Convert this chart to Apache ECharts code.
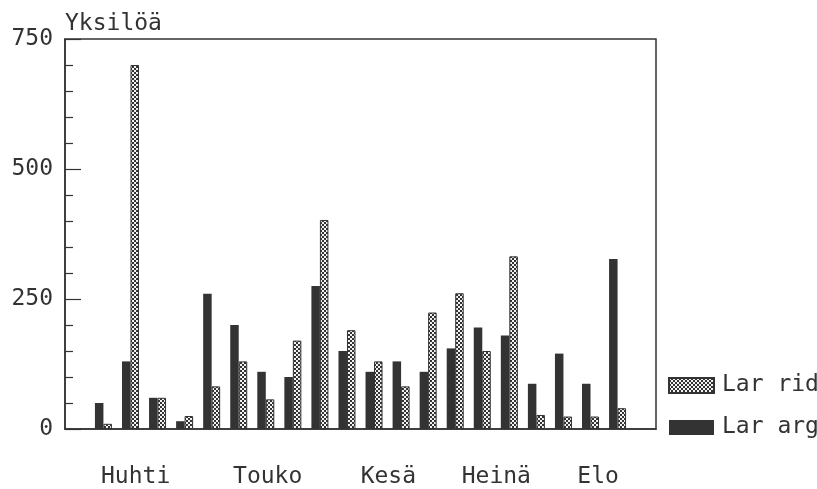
<!DOCTYPE html>
<html>
<head>
<meta charset="utf-8">
<script src="https://cdn.jsdelivr.net/npm/echarts@6/dist/echarts.min.js"></script>
<style>
html,body{margin:0;padding:0;background:#fff;}
#c{width:817px;height:489px;}
</style>
</head>
<body>
<div id="c"></div>
<script>
// ---- data ----
var categories = [1,2,3,4,5,6,7,8,9,10,11,12,13,14,15,16,17,18,19,20];
var larArg = [50,130,60,15,260,200,110,100,275,150,110,130,110,155,195,180,87,145,87,327];
var larRid = [10,700,60,25,82,130,57,170,402,190,130,82,224,261,150,332,27,24,24,40];
var monthLabels = ['Huhti','Touko','Kesä','Heinä','Elo'];
var monthAnchors = [2.19, 7.07, 11.53, 15.52, 19.28];
var yTicks = [0,250,500,750];
var seriesNames = ['Lar arg','Lar rid'];

// ---- hatch pattern ----
var pc = document.createElement('canvas');
pc.width = 4; pc.height = 4;
var g = pc.getContext('2d');
g.fillStyle = '#333333'; g.fillRect(0,0,4,4);
g.fillStyle = '#f2f2f2';
g.fillRect(0,0,2,2); g.fillRect(2,2,2,2);
var hatch = {image: pc, repeat: 'repeat'};

var font = 'DejaVu Sans Mono';
var chart = echarts.init(document.getElementById('c'), null, {renderer:'canvas'});
chart.setOption({
  animation: false,
  backgroundColor: '#fff',
  title: {
    text: 'Yksilöä', left: 60, top: 8,
    textStyle: {fontFamily: font, fontSize: 23, fontWeight: 'normal', color: '#333'}
  },
  legend: {
    orient: 'vertical', left: 663, top: 369,
    itemWidth: 45, itemHeight: 15, itemGap: 19,
    icon: 'rect',
    data: [seriesNames[1], seriesNames[0]],
    textStyle: {fontFamily: font, fontSize: 23, color: '#333', padding: [0,0,0,3]}
  },
  grid: {left: 65, right: 161, top: 39, bottom: 59, show: true, borderColor: '#333', borderWidth: 1.5},
  xAxis: {
    type: 'value', min: -0.42, max: 21.42,
    splitLine: {show: false},
    axisLine: {show: true, onZero: false, lineStyle: {color: '#333', width: 1.5}},
    axisTick: {show: false},
    axisLabel: {
      customValues: monthAnchors,
      margin: 37,
      fontFamily: font, fontSize: 23, color: '#333',
      formatter: function (v) {
        for (var i = 0; i < monthAnchors.length; i++) {
          if (Math.abs(monthAnchors[i] - v) < 1e-6) return monthLabels[i];
        }
        return '';
      }
    }
  },
  yAxis: [{
    type: 'value', min: yTicks[0], max: yTicks[yTicks.length-1], interval: 250,
    splitLine: {show: false},
    axisLine: {show: true, onZero: false, lineStyle: {color: '#333', width: 1.5}},
    axisTick: {show: true, inside: true, length: 16, lineStyle: {color: '#333', width: 1.2}},
    minorTick: {show: true, splitNumber: 5, length: 8, lineStyle: {color: '#333', width: 1.2}},
    axisLabel: {margin: 12, fontFamily: font, fontSize: 23, color: '#333'}
  }],
  series: [{
    name: seriesNames[0], type: 'bar',
    barWidth: 8.5, barGap: '0%',
    itemStyle: {color: '#333'},
    data: categories.map(function (c, i) { return [c, larArg[i]]; })
  }, {
    name: seriesNames[1], type: 'bar',
    barWidth: 8.5, barGap: '0%',
    itemStyle: {color: hatch, borderColor: '#333', borderWidth: 1},
    data: categories.map(function (c, i) { return [c, larRid[i]]; })
  }]
});
</script>
</body>
</html>
